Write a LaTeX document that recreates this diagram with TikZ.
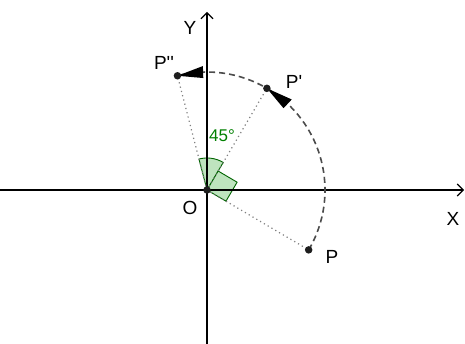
\documentclass[tikz,border=0pt]{standalone}
\usepackage{fontspec}
\setmainfont{Liberation Sans}[Ligatures=TeXOff]
\usetikzlibrary{arrows.meta,calc}
\definecolor{angdraw}{RGB}{0,100,0}
\definecolor{angfill}{RGB}{190,228,190}
\definecolor{anglbl}{RGB}{0,128,0}
\definecolor{ptcol}{RGB}{30,30,30}
\begin{document}
\begin{tikzpicture}[x=1pt,y=1pt,
  axis/.style={line width=1.1pt,black,-{Straight Barb[length=6pt,width=12pt,line width=1.1pt]}},
  dotline/.style={gray,line width=1.2pt,dash pattern=on 1.2pt off 3.2pt},
  arcline/.style={black!70,line width=1.6pt,dash pattern=on 6pt off 4pt},
  angshape/.style={fill=angfill,draw=angdraw,line width=0.9pt},
  pt/.style={circle,fill=ptcol,inner sep=0pt,minimum size=7.5pt},
  lbl/.style={font=\fontsize{19}{19}\selectfont,inner sep=0pt},
  tip/.style={fill=black,draw=none}]
\useasboundingbox (-207,-154) rectangle (258,190);
\fill[white] (-207,-154) rectangle (258,190);
% angle marks
\path[angshape] (0,0) -- (59.5:32) arc[start angle=59.5,end angle=104.5,radius=32] -- cycle;
\path[angshape] (0,0) -- (-30.5:22) -- ($(-30.5:22)+(59.5:22)$) -- (59.5:22) -- cycle;
% axes
\coordinate (xs) at (-207,0);
\coordinate (xe) at (257,0);
\coordinate (ys) at (0,-154);
\coordinate (ye) at (0,178);
\draw[axis] (xs) -- (xe);
\draw[axis] (ys) -- (ye);
% points
\coordinate (O) at (0,0);
\coordinate (P) at (-30.5:118);
\coordinate (P1) at (59.5:118);
\coordinate (P2) at (104.5:118);
% dotted radii
\draw[dotline] (O) -- (P);
\draw[dotline] (O) -- (P1);
\draw[dotline] (O) -- (P2);
% arc
\draw[arcline] (P) arc[start angle=-30.5,end angle=104.5,radius=118];
% arrow heads
\fill[tip] (59.5:118) -- (46.9:124) -- (46.9:112) -- cycle;
\fill[tip] (104.5:118) -- (91.9:124) -- (91.9:112) -- cycle;
% dots
\node[pt] (nO) at (O) {};
\node[pt] (nP) at (P) {};
\node[pt] (nP1) at (P1) {};
\node[pt] (nP2) at (P2) {};
% labels
\node[lbl] (lP) at (125,-67) {P};
\node[lbl] (lP1) at (87,108) {P'};
\node[lbl] (lP2) at (-43,127) {P''};
\node[lbl] (lO) at (-17,-18) {O};
\node[lbl] (lX) at (246,-29) {X};
\node[lbl] (lY) at (-17,162) {Y};
\node[lbl,text=anglbl,font=\fontsize{17}{17}\selectfont] (l45) at (15,54) {45°};
\end{tikzpicture}
\end{document}
